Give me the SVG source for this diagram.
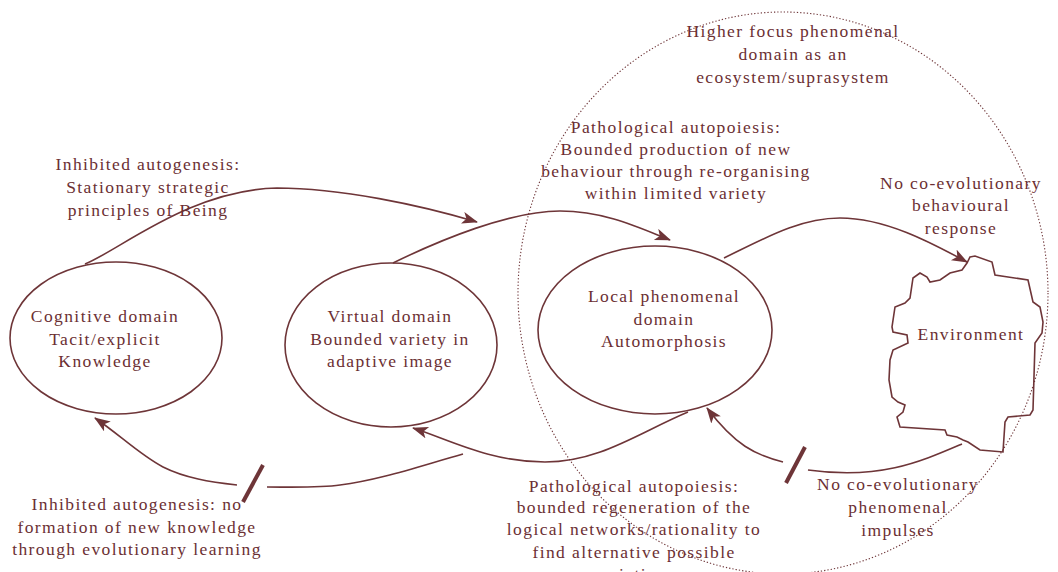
<svg xmlns="http://www.w3.org/2000/svg" width="1058" height="572" viewBox="0 0 1058 572">
<defs>
<style>
.t{font-family:"Liberation Serif","Times New Roman",serif;font-size:17.5px;letter-spacing:1.4px;fill:#6b2f33;text-anchor:middle}
.n{fill:none;stroke:#6e3538;stroke-width:1.6}
.c{fill:none;stroke:#6e3538;stroke-width:1.6}
.s{stroke:#6e3538;stroke-width:4;stroke-linecap:butt}
.d{fill:none;stroke:#6e3538;stroke-width:1.1;stroke-dasharray:1.3 2}
</style>
<marker id="ah" markerUnits="userSpaceOnUse" markerWidth="18" markerHeight="14" refX="15" refY="6" orient="auto" viewBox="0 0 18 14">
<path d="M0,0 L16,6 L0,12 L4,6 z" fill="#6e3538"/>
</marker>
</defs>
<rect width="1058" height="572" fill="#fff"/>

<g id="suprasystem">
<ellipse class="d" cx="783" cy="293" rx="265" ry="281"/>
<text class="t" x="793" y="37">Higher focus phenomenal</text>
<text class="t" x="793" y="60">domain as an</text>
<text class="t" x="793" y="83">ecosystem/suprasystem</text>
</g>

<g id="cognitive">
<ellipse class="n" cx="116" cy="338" rx="106" ry="76"/>
<text class="t" x="105" y="322">Cognitive domain</text>
<text class="t" x="105" y="345">Tacit/explicit</text>
<text class="t" x="105" y="367">Knowledge</text>
</g>

<g id="virtual">
<ellipse class="n" cx="391" cy="345" rx="106" ry="82"/>
<text class="t" x="390" y="322">Virtual domain</text>
<text class="t" x="390" y="345">Bounded variety in</text>
<text class="t" x="390" y="367">adaptive image</text>
</g>

<g id="local">
<ellipse class="n" cx="655" cy="330" rx="117" ry="84"/>
<text class="t" x="664" y="302">Local phenomenal</text>
<text class="t" x="664" y="325">domain</text>
<text class="t" x="664" y="347">Automorphosis</text>
</g>

<g id="environment">
<path class="n" d="M970,257 L975,256 L992,262 L995,275 L1028,280 L1033,302 L1040,307 L1043,322 L1042,333 L1035,343 L1033,410 L1030,415 L1008,417 L1005,422 L1003,452 L980,450 L968,442 L963,440 L957,437 L947,435 L945,430 L900,427 L897,417 L903,412 L905,405 L898,402 L892,397 L889,380 L890,360 L893,350 L908,343 L907,335 L893,332 L892,327 L895,307 L905,303 L910,298 L913,278 L920,273 L927,277 L930,282 L940,280 L950,273 L962,270 L967,263 Z"/>
<text class="t" x="971" y="340">Environment</text>
</g>

<g id="connectors">
<path class="c" marker-end="url(#ah)" d="M85,264 C120,250 190,190 277,188 C340,188 420,205 477,222"/>
<path class="c" marker-end="url(#ah)" d="M393,263 C440,240 510,211 560,211 C605,211 640,228 670,240"/>
<path class="c" marker-end="url(#ah)" d="M724,258 C765,238 800,218 840,218 C885,218 930,242 967,262"/>
<path class="c" d="M962,444 C920,462 880,480 808,470"/>
<path class="c" marker-end="url(#ah)" d="M783,462 C755,455 735,445 707,408"/>
<line class="s" x1="805" y1="447" x2="786" y2="483"/>
<path class="c" marker-end="url(#ah)" d="M688,412 C640,432 600,462 545,462 C490,462 450,440 413,428"/>
<path class="c" d="M463,454 C420,466 380,480 340,485 C320,488 290,487 267,487"/>
<line class="s" x1="263" y1="465" x2="243" y2="502"/>
<path class="c" marker-end="url(#ah)" d="M237,485 C210,482 185,478 163,467 C140,455 120,435 95,418"/>
</g>

<g id="labels">
<text class="t" x="148" y="170">Inhibited autogenesis:</text>
<text class="t" x="148" y="193">Stationary strategic</text>
<text class="t" x="148" y="216">principles of Being</text>
<text class="t" x="676" y="133">Pathological autopoiesis:</text>
<text class="t" x="676" y="155">Bounded production of new</text>
<text class="t" x="676" y="177">behaviour through re-organising</text>
<text class="t" x="676" y="199">within limited variety</text>
<text class="t" x="961" y="189">No co-evolutionary</text>
<text class="t" x="961" y="211">behavioural</text>
<text class="t" x="961" y="234">response</text>
<text class="t" x="137" y="510">Inhibited autogenesis: no</text>
<text class="t" x="137" y="533">formation of new knowledge</text>
<text class="t" x="137" y="555">through evolutionary learning</text>
<text class="t" x="634" y="492">Pathological autopoiesis:</text>
<text class="t" x="634" y="513">bounded regeneration of the</text>
<text class="t" x="634" y="535">logical networks/rationality to</text>
<text class="t" x="634" y="558">find alternative possible</text>
<text class="t" x="634" y="580">variations</text>
<text class="t" x="898" y="490">No co-evolutionary</text>
<text class="t" x="898" y="513">phenomenal</text>
<text class="t" x="898" y="536">impulses</text>
</g>
</svg>
